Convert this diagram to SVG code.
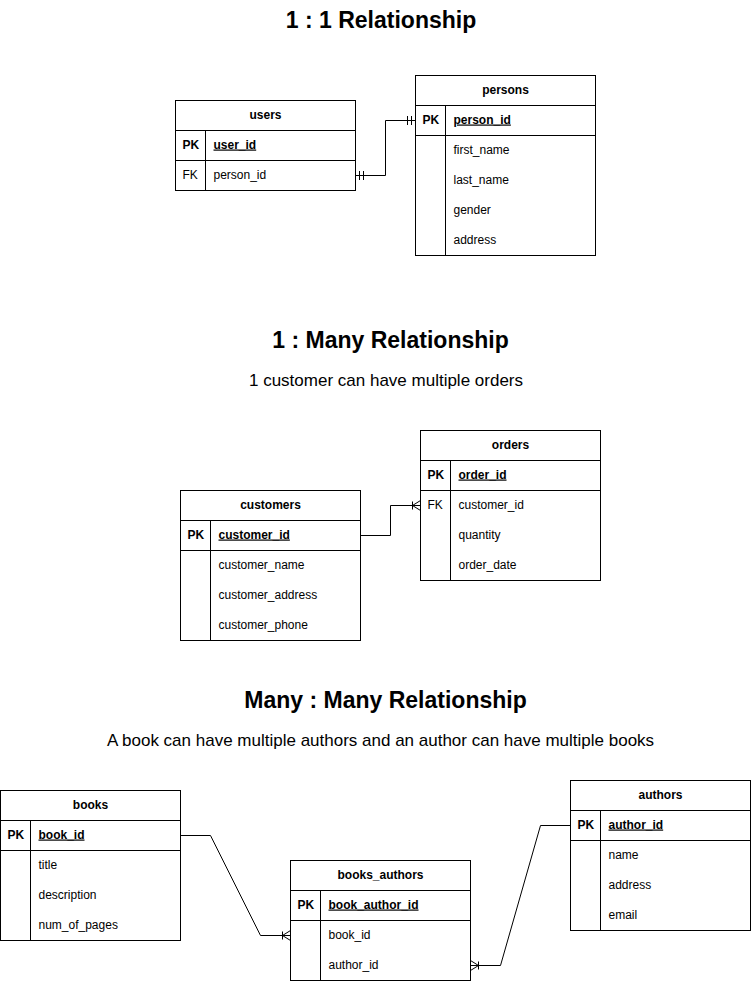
<svg xmlns="http://www.w3.org/2000/svg" width="751" height="981" viewBox="0 0 751 981">
<style>
.t{font-family:"Liberation Sans",Arial,sans-serif;fill:#000}
.title{font-size:23px;font-weight:bold;text-anchor:middle}
.sub{font-size:17px;text-anchor:middle}
.hd{font-size:12px;font-weight:bold;text-anchor:middle}
.k{font-size:12px;font-weight:bold}
.pk{font-size:12px;font-weight:bold;text-decoration:underline}
.f{font-size:12px}
.box{fill:#fff;stroke:#000;stroke-width:1}
.ln{fill:none;stroke:#000;stroke-width:1}
.conn{fill:none;stroke:#000;stroke-width:1}
</style>
<defs>
<marker id="one" viewBox="0 0 20 20" refX="20" refY="10" markerWidth="20" markerHeight="20" markerUnits="userSpaceOnUse" orient="auto-start-reverse">
<path d="M12,5.5V14.5M16,5.5V14.5" fill="none" stroke="#000" stroke-width="1"/>
</marker>
<marker id="many" viewBox="0 0 20 20" refX="20" refY="10" markerWidth="20" markerHeight="20" markerUnits="userSpaceOnUse" orient="auto-start-reverse">
<path d="M12,6V14M20,5L12,10L20,15" fill="none" stroke="#000" stroke-width="1"/>
</marker>
</defs>
<rect width="751" height="981" fill="#fff"/>

<text class="t title" x="381" y="28">1 : 1 Relationship</text>
<text class="t title" x="390.5" y="348">1 : Many Relationship</text>
<text class="t sub" x="386" y="386">1 customer can have multiple orders</text>
<text class="t title" x="385.5" y="708">Many : Many Relationship</text>
<text class="t sub" x="380.5" y="746">A book can have multiple authors and an author can have multiple books</text>

<g id="connectors" transform="translate(0.5,0.5)">
<path class="conn" d="M355,175H385V120H415" marker-start="url(#one)" marker-end="url(#one)"/>
<path class="conn" d="M360,535H390V505H420" marker-end="url(#many)"/>
<path class="conn" d="M180,835H210L260,935H290" marker-end="url(#many)"/>
<path class="conn" d="M570,825H540L500,965H470" marker-end="url(#many)"/>
</g>

<g id="users" transform="translate(0.5,-0.5)">
<rect class="box" x="175" y="101" width="180" height="90"/>
<path class="ln" d="M175,131H355M175,161H355M205,131V191"/>
<text class="t hd" x="265" y="119">users</text>
<text class="t k" x="182" y="149">PK</text>
<text class="t pk" x="213" y="149">user_id</text>
<text class="t f" x="182" y="179">FK</text>
<text class="t f" x="213" y="179">person_id</text>
</g>

<g id="persons" transform="translate(0.5,-0.5)">
<rect class="box" x="415" y="76" width="180" height="180"/>
<path class="ln" d="M415,106H595M415,136H595M445,106V256"/>
<text class="t hd" x="505" y="94">persons</text>
<text class="t k" x="422" y="124">PK</text>
<text class="t pk" x="453" y="124">person_id</text>
<text class="t f" x="453" y="154">first_name</text>
<text class="t f" x="453" y="184">last_name</text>
<text class="t f" x="453" y="214">gender</text>
<text class="t f" x="453" y="244">address</text>
</g>

<g id="customers" transform="translate(0.5,-0.5)">
<rect class="box" x="180" y="491" width="180" height="150"/>
<path class="ln" d="M180,521H360M180,551H360M210,521V641"/>
<text class="t hd" x="270" y="509">customers</text>
<text class="t k" x="187" y="539">PK</text>
<text class="t pk" x="218" y="539">customer_id</text>
<text class="t f" x="218" y="569">customer_name</text>
<text class="t f" x="218" y="599">customer_address</text>
<text class="t f" x="218" y="629">customer_phone</text>
</g>

<g id="orders" transform="translate(0.5,-0.5)">
<rect class="box" x="420" y="431" width="180" height="150"/>
<path class="ln" d="M420,461H600M420,491H600M450,461V581"/>
<text class="t hd" x="510" y="449">orders</text>
<text class="t k" x="427" y="479">PK</text>
<text class="t pk" x="458" y="479">order_id</text>
<text class="t f" x="427" y="509">FK</text>
<text class="t f" x="458" y="509">customer_id</text>
<text class="t f" x="458" y="539">quantity</text>
<text class="t f" x="458" y="569">order_date</text>
</g>

<g id="books" transform="translate(0.5,-0.5)">
<rect class="box" x="0" y="791" width="180" height="150"/>
<path class="ln" d="M0,821H180M0,851H180M30,821V941"/>
<text class="t hd" x="90" y="809">books</text>
<text class="t k" x="7" y="839">PK</text>
<text class="t pk" x="38" y="839">book_id</text>
<text class="t f" x="38" y="869">title</text>
<text class="t f" x="38" y="899">description</text>
<text class="t f" x="38" y="929">num_of_pages</text>
</g>

<g id="books_authors" transform="translate(0.5,-0.5)">
<rect class="box" x="290" y="861" width="180" height="120"/>
<path class="ln" d="M290,891H470M290,921H470M320,891V981"/>
<text class="t hd" x="380" y="879">books_authors</text>
<text class="t k" x="297" y="909">PK</text>
<text class="t pk" x="328" y="909">book_author_id</text>
<text class="t f" x="328" y="939">book_id</text>
<text class="t f" x="328" y="969">author_id</text>
</g>

<g id="authors" transform="translate(0.5,-0.5)">
<rect class="box" x="570" y="781" width="180" height="150"/>
<path class="ln" d="M570,811H750M570,841H750M600,811V931"/>
<text class="t hd" x="660" y="799">authors</text>
<text class="t k" x="577" y="829">PK</text>
<text class="t pk" x="608" y="829">author_id</text>
<text class="t f" x="608" y="859">name</text>
<text class="t f" x="608" y="889">address</text>
<text class="t f" x="608" y="919">email</text>
</g>
</svg>
